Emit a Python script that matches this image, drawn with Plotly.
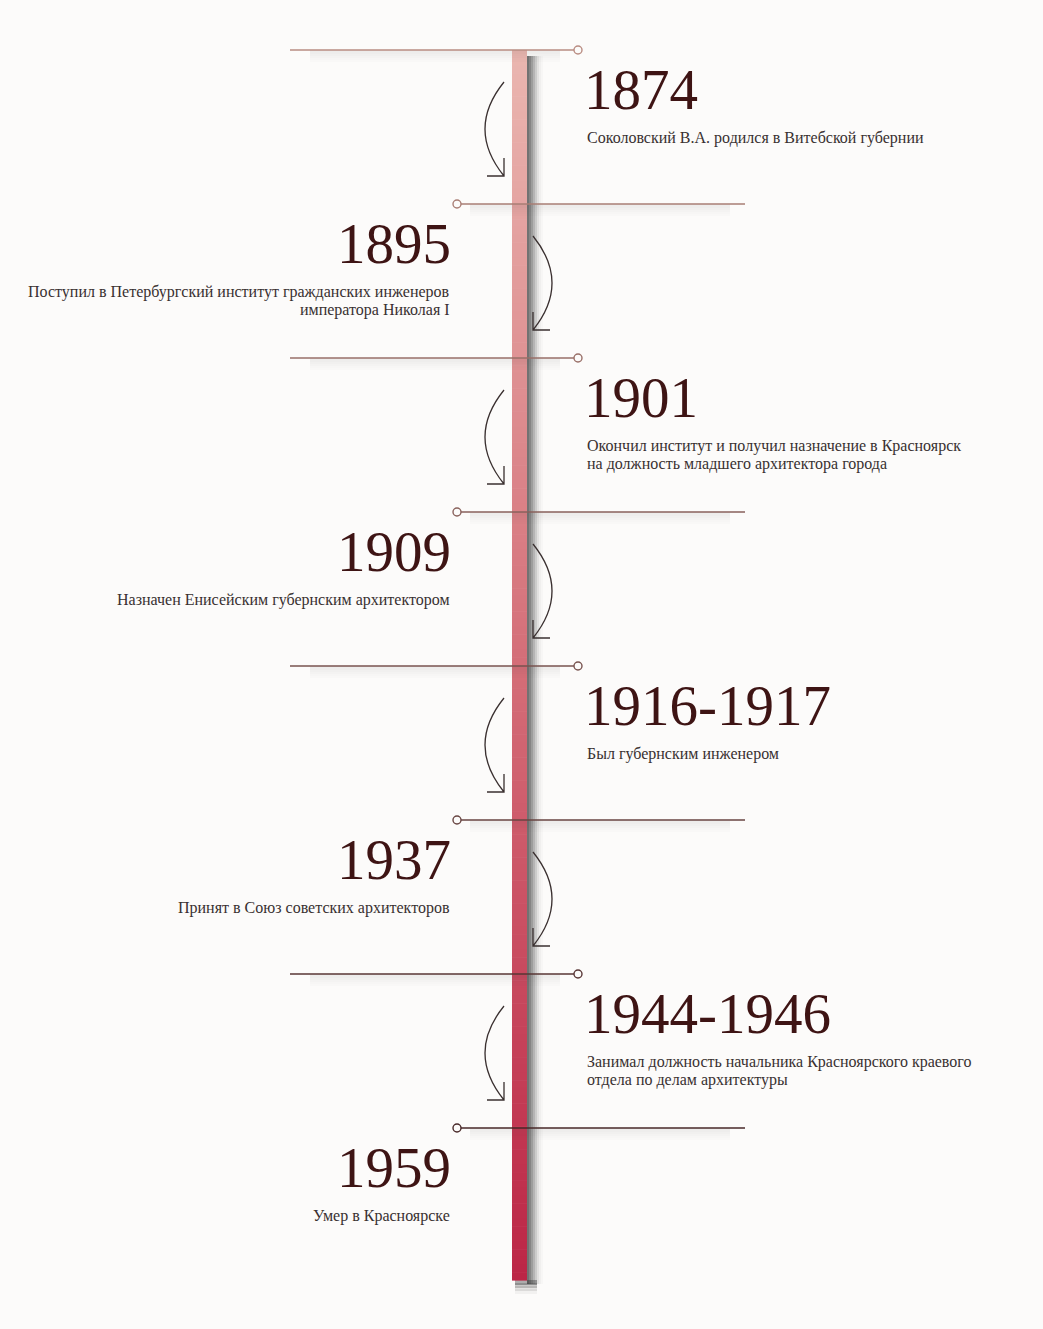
import plotly.graph_objects as go

# ---------------- data ----------------
years = ["1874", "1895", "1901", "1909", "1916-1917", "1937", "1944-1946", "1959"]
descriptions = [
    "Соколовский В.А. родился в Витебской губернии",
    "Поступил в Петербургский институт гражданских инженеров<br>императора Николая I",
    "Окончил институт и получил назначение в Красноярск<br>на должность младшего архитектора города",
    "Назначен Енисейским губернским архитектором",
    "Был губернским инженером",
    "Принят в Союз советских архитекторов",
    "Занимал должность начальника Красноярского краевого<br>отдела по делам архитектуры",
    "Умер в Красноярске",
]
sides = ["right", "left", "right", "left", "right", "left", "right", "left"]

# ---------------- layout constants ----------------
W, H = 1043, 1329
BG = "#fcfbfa"
TOP, STEP = 50, 154
BAR_X0, BAR_X1 = 512, 527
BAR_Y0, BAR_Y1 = 50, 1280
YEAR_COLOR = "#3e1414"
DESC_COLOR = "#383030"


def lerp(c0, c1, t):
    return tuple(int(round(a + (b - a) * t)) for a, b in zip(c0, c1))


def rgb(c):
    return f"rgb({c[0]},{c[1]},{c[2]})"


shapes = []
annotations = []

# bar shadow (right side) - continuous soft columns
for dx0, dx1, a in [(0, 2, 0.7), (2, 4, 0.6), (4, 6, 0.48), (6, 8, 0.36),
                    (8, 10, 0.24), (10, 12, 0.13), (12, 14, 0.06), (14, 16, 0.025)]:
    shapes.append(dict(type="rect", xref="x", yref="y", x0=BAR_X1 + dx0, x1=BAR_X1 + dx1,
                       y0=BAR_Y0 + 6, y1=BAR_Y1 + 4, fillcolor=f"rgba(55,55,55,{a})",
                       line=dict(width=0), layer="below"))
for dy, a in [(3, 0.4), (6, 0.25), (9, 0.12), (12, 0.05)]:
    shapes.append(dict(type="rect", xref="x", yref="y", x0=BAR_X0 + 3, x1=BAR_X1 + 10,
                       y0=BAR_Y1 + dy - 3, y1=BAR_Y1 + dy + 2, fillcolor=f"rgba(55,55,55,{a})",
                       line=dict(width=0), layer="below"))

# bar gradient
N = 160
seg = (BAR_Y1 - BAR_Y0) / N
c_top, c_mid, c_bot = (234, 182, 176), (212, 110, 120), (188, 38, 70)
for k in range(N):
    t = k / (N - 1)
    c = lerp(c_top, c_mid, t * 2) if t < 0.5 else lerp(c_mid, c_bot, (t - 0.5) * 2)
    shapes.append(dict(type="rect", xref="x", yref="y", x0=BAR_X0, x1=BAR_X1,
                       y0=BAR_Y0 + k * seg, y1=BAR_Y0 + (k + 1) * seg + 0.6,
                       fillcolor=rgb(c), line=dict(width=0), layer="below"))

line_top, line_bot = (185, 140, 130), (72, 40, 40)
n = len(years)

for i, (yr, desc, side) in enumerate(zip(years, descriptions, sides)):
    y = TOP + STEP * i
    lc = rgb(lerp(line_top, line_bot, i / (n - 1)))
    if side == "right":
        lx0, lx1, cx = 290, 574, 578
        sh0, sh1 = 310, 560
    else:
        lx0, lx1, cx = 461, 745, 457
        sh0, sh1 = 470, 730
    # soft shadow under line
    for dy, a in [(2, 0.08), (4, 0.07), (6, 0.055), (8, 0.04), (10, 0.028), (12, 0.016)]:
        shapes.append(dict(type="rect", xref="x", yref="y", x0=sh0, x1=sh1,
                           y0=y + dy - 2, y1=y + dy, fillcolor=f"rgba(60,60,60,{a})",
                           line=dict(width=0), layer="below"))
    # line
    shapes.append(dict(type="line", xref="x", yref="y", x0=lx0, x1=lx1, y0=y, y1=y,
                       line=dict(color=lc, width=1.6)))
    # hollow circle
    shapes.append(dict(type="circle", xref="x", yref="y", x0=cx - 4, x1=cx + 4,
                       y0=y - 4, y1=y + 4, line=dict(color=lc, width=1.4), fillcolor=BG))
    # curved arrow to next event
    if i < n - 1:
        if side == "right":
            sx, bx, ex = 504, 466, 504
            head = f"M {ex-17},{y+126} L {ex},{y+126} L {ex},{y+108}"
        else:
            sx, bx, ex = 533, 571, 533
            head = f"M {ex+17},{y+126} L {ex},{y+126} L {ex},{y+108}"
        path = f"M {sx},{y+32} Q {bx},{y+79} {ex},{y+126} " + head
        shapes.append(dict(type="path", xref="x", yref="y", path=path,
                           line=dict(color="#3a3030", width=1.3)))

    # year text
    if side == "right":
        tx, anc = 582, "left"
        dx = 585
    else:
        tx, anc = 453, "right"
        dx = 452
    annotations.append(dict(x=tx, y=y + 39, xref="x", yref="y", text=yr, showarrow=False,
                            xanchor=anc, yanchor="middle",
                            font=dict(family="Liberation Serif", size=57, color=YEAR_COLOR)))
    # description lines
    for j, line in enumerate(desc.split("<br>")):
        annotations.append(dict(x=dx, y=y + 88 + 18 * j, xref="x", yref="y", text=line,
                                showarrow=False, xanchor=anc, yanchor="middle",
                                font=dict(family="Liberation Serif", size=16, color=DESC_COLOR)))

fig = go.Figure()
fig.add_trace(go.Scatter(x=[0, W], y=[0, H], mode="markers", marker=dict(opacity=0),
                         hoverinfo="skip", showlegend=False))
fig.update_layout(
    width=W, height=H, margin=dict(l=0, r=0, t=0, b=0),
    paper_bgcolor=BG, plot_bgcolor=BG,
    xaxis=dict(range=[0, W], visible=False, fixedrange=True),
    yaxis=dict(range=[H, 0], visible=False, fixedrange=True),
    shapes=shapes, annotations=annotations, showlegend=False,
)
fig.write_html(
    "out.html",
    config={"displayModeBar": False},
    post_script="document.body.style.margin='0';document.body.style.background='#fcfbfa';",
)
